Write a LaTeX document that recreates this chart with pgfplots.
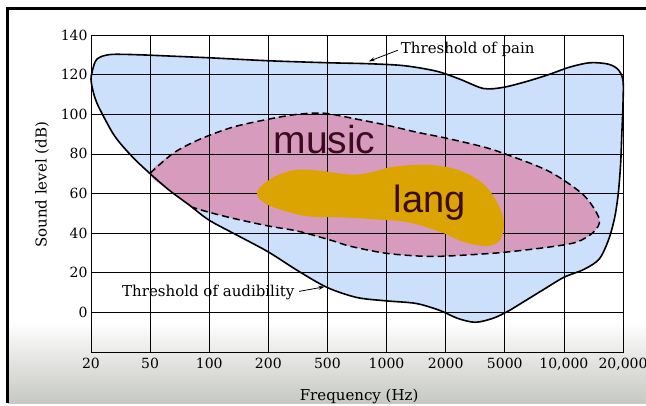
\documentclass[border=0pt]{standalone}
\usepackage{fontspec}
\setmainfont{DejaVu Serif}
\newfontfamily\lbl{Liberation Sans}
\usepackage{pgfplots}
\pgfplotsset{compat=1.18}
\usetikzlibrary{arrows.meta}
\definecolor{blueF}{HTML}{CDE0FB}
\definecolor{pinkF}{HTML}{D79BBD}
\definecolor{yelF}{HTML}{DBA400}
\definecolor{txt}{HTML}{3B0B1F}
\definecolor{grayB}{HTML}{C6C8C2}
\begin{document}
\begin{tikzpicture}
\path[use as bounding box, fill=white] (-91bp,-54bp) rectangle (555bp,352bp);
\shade[top color=white, bottom color=grayB] (-83bp,-51bp) rectangle (555bp,30bp);
\begin{axis}[at={(0bp,0bp)}, anchor=south west, scale only axis,
  width=532bp, height=317bp, xmin=0, xmax=9, ymin=-20, ymax=140,
  xtick={0,...,9},
  xticklabels={20,50,100,200,500,1000,2000,5000,{10,000},{20,000}},
  ytick={0,20,...,140},
  axis line style={black, line width=0.9bp}, major tick length=0pt,
  ticklabel style={font=\fontsize{14bp}{16bp}\selectfont},
  xticklabel style={yshift=-3bp},
  /pgf/number format/assume math mode=true,
  xlabel={Frequency (Hz)}, ylabel={Sound level (dB)},
  label style={font=\fontsize{15bp}{17bp}\selectfont},
  xlabel style={at={(axis description cs:0.504,-0.139)}, anchor=center},
  ylabel style={at={(axis description cs:-0.092,0.527)}, anchor=center},
  clip=false]
% blue region
\addplot[draw=none, fill=blueF, smooth, tension=0.5] coordinates {
(1.0,129.8) (2.0,128.5) (3.0,127) (4.0,126) (4.7,125.5) (5.3,124.5) (5.85,121.7) (6.24,117.7) (6.64,113) (6.98,113.6)
(7.4,116.8) (7.76,120.2) (8.1,123.8) (8.44,126) (8.75,125.3) (8.92,122.5) (9.0,117) (9.0,105) (8.98,90) (8.96,75)
(8.92,60) (8.86,48) (8.76,37) (8.6,27) (8.34,21.7) (8.0,17.7) (7.66,11.6) (7.3,5) (7.05,0.5) (6.8,-3) (6.5,-5) (6.2,-3)
(5.9,1) (5.5,4.5) (5.0,5.8) (4.5,7.5) (4.0,12.5) (3.5,21) (3.0,30.5) (2.5,38.5) (2.0,46.5) (1.67,54) (1.33,61.5)
(1.0,70) (0.7,78.5) (0.4,89) (0.15,102.5) (0.07,108) (0.02,113.6) (0.0,117.7) (0.02,121.5) (0.1,127.8) (0.35,130.2) (1.0,129.8)
};
% pink region
\addplot[draw=none, fill=pinkF, smooth, tension=0.5] coordinates {
(3.95,100.5) (4.5,97.5) (5.0,94.5) (5.5,91) (6.0,88)
(6.64,83.5) (7.05,79.5) (7.76,71) (8.34,59) (8.6,47) (8.5,40.5) (8.22,35.5) (7.76,33) (7.05,30.5) (6.64,29.5) (5.92,28.3)
(5.5,28.5) (4.95,30) (4.37,33.5) (4.05,36.5) (3.5,41) (3.0,43.6) (2.4,47.5) (2.0,50.5) (1.72,53) (1.33,61.5)
(1.0,70.2) (1.4,80.5) (1.85,87.5) (2.4,93.5) (3.0,97.5) (3.5,100) (3.95,100.5)
};
% grid over the fills
\pgfplotsinvokeforeach{1,...,8}{\draw[black, line width=0.7bp] (axis cs:#1,-20) -- (axis cs:#1,140);}
\pgfplotsinvokeforeach{0,20,...,120}{\draw[black, line width=0.7bp] (axis cs:0,#1) -- (axis cs:9,#1);}
% outline of blue region
\addplot[black, line width=1.6bp, smooth, tension=0.5] coordinates {
(1.0,129.8) (2.0,128.5) (3.0,127) (4.0,126) (4.7,125.5) (5.3,124.5) (5.85,121.7) (6.24,117.7) (6.64,113) (6.98,113.6)
(7.4,116.8) (7.76,120.2) (8.1,123.8) (8.44,126) (8.75,125.3) (8.92,122.5) (9.0,117) (9.0,105) (8.98,90) (8.96,75)
(8.92,60) (8.86,48) (8.76,37) (8.6,27) (8.34,21.7) (8.0,17.7) (7.66,11.6) (7.3,5) (7.05,0.5) (6.8,-3) (6.5,-5) (6.2,-3)
(5.9,1) (5.5,4.5) (5.0,5.8) (4.5,7.5) (4.0,12.5) (3.5,21) (3.0,30.5) (2.5,38.5) (2.0,46.5) (1.67,54) (1.33,61.5)
(1.0,70) (0.7,78.5) (0.4,89) (0.15,102.5) (0.07,108) (0.02,113.6) (0.0,117.7) (0.02,121.5) (0.1,127.8) (0.35,130.2) (1.0,129.8)
};
% dashed outline of music region
\addplot[black, line width=1.5bp, dash pattern=on 7bp off 4bp, smooth, tension=0.5] coordinates {
(1.0,70.2) (1.4,80.5) (1.85,87.5) (2.4,93.5) (3.0,97.5) (3.5,100) (3.95,100.5) (4.5,97.5) (5.0,94.5) (5.5,91) (6.0,88)
(6.64,83.5) (7.05,79.5) (7.76,71) (8.34,59) (8.6,47) (8.5,40.5) (8.22,35.5) (7.76,33) (7.05,30.5) (6.64,29.5) (5.92,28.3)
(5.5,28.5) (4.95,30) (4.37,33.5) (4.05,36.5) (3.5,41) (3.0,43.6) (2.4,47.5) (2.0,50.5) (1.72,53)
};
% language blob
\addplot[draw=none, fill=yelF, smooth, tension=0.6] coordinates {
(4.0,71) (4.44,69.5) (4.78,71) (5.12,73.5) (5.69,74.5) (6.2,72) (6.59,66) (6.81,58.5)
(6.98,47) (6.93,37) (6.71,33.5) (6.31,35.5) (5.92,40.5) (5.36,45.5) (4.78,47) (4.22,48) (3.66,48.5) (3.2,52) (2.92,55.5)
(2.81,61) (3.08,68) (3.49,72) (4.0,71)
};
\node[font=\lbl\fontsize{39bp}{40bp}\selectfont, text=txt, anchor=base, inner sep=0] at (axis cs:3.95,80.3) {music};
\node[font=\lbl\fontsize{38bp}{40bp}\selectfont, text=txt, anchor=base, inner sep=0] at (axis cs:5.73,50.5) {lang};
\node[font=\fontsize{15bp}{17bp}\selectfont, anchor=west, inner sep=0] at (axis cs:5.24,132.8) {Threshold of pain};
\node[font=\fontsize{15bp}{17bp}\selectfont, anchor=west, inner sep=0] at (axis cs:0.525,10.1) {Threshold of audibility};
\draw[-{Stealth[length=6bp,width=4bp]}, line width=0.8bp] (axis cs:5.19,132.3) -- (axis cs:4.70,126.7);
\draw[-{Stealth[length=6bp,width=4bp]}, line width=0.8bp] (axis cs:3.52,10.6) -- (axis cs:3.95,12.9);
\end{axis}
\draw[black, line width=3bp] (-83bp,-51bp) -- (-83bp,343.5bp) -- (556bp,343.5bp);
\end{tikzpicture}
\end{document}
